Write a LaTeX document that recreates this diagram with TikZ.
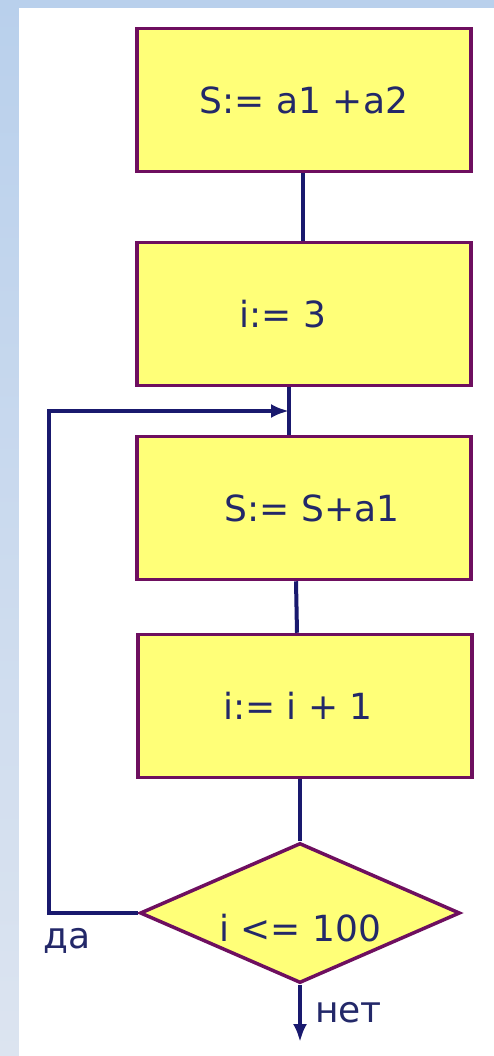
\documentclass[tikz,border=0pt]{standalone}
\usepackage{fontspec}
\setmainfont{DejaVu Sans}
\usetikzlibrary{shapes.geometric,arrows.meta}
\definecolor{navy}{RGB}{25,25,110}
\definecolor{inkblue}{RGB}{35,40,105}
\definecolor{boxpurple}{RGB}{110,15,95}
\definecolor{boxyellow}{RGB}{255,255,120}
\definecolor{bgtop}{RGB}{185,208,236}
\definecolor{bgbot}{RGB}{220,228,240}

\begin{document}
\begin{tikzpicture}[x=1pt,y=-1pt]
\tikzstyle{every node}+=[inner sep=0pt,text=inkblue,font=\fontsize{36}{40}\selectfont]
\tikzstyle{blk}=[draw=boxpurple,fill=boxyellow,line width=3.5pt,minimum width=334pt,minimum height=143pt]
\tikzstyle{cond}=[blk,diamond,aspect=2.3,minimum width=320pt,minimum height=140pt]
\tikzstyle{wire}=[navy,line width=4pt]
\tikzstyle{wirearrow}=[wire,-{Latex[length=18pt,width=14pt]}]
% background
\shade [top color=bgtop,bottom color=bgbot] (0,0) rectangle (494,1056);
\fill [white] (19,8) rectangle (494,1056);
% blocks
\node [blk] (b1) at (304,100) {S:= a1 +a2};
\node [blk] (b2) at (304,314) {i:= 3\hspace*{42pt}};
\node [blk] (b3) at (304,508) {\hspace*{16pt}S:= S+a1};
\node [blk] (b4) at (305,706) {i:= i + 1\hspace*{14pt}};
\node [cond] (c) at (300,913) {\raisebox{-28pt}[0pt][0pt]{i <= 100}};
% connectors
\coordinate (jn) at ([xshift=-15pt]b2.south);
\coordinate (back) at (49,411);
\coordinate (out) at (300,1042);
\draw [wire] ([xshift=-1pt]b1.south) -- ([xshift=-1pt]b2.north);
\draw [wire] (jn) -- ([xshift=-15pt]b3.north);
\draw [wire] ([xshift=-8pt]b3.south) -- ([xshift=-8pt]b4.north);
\draw [wire] (c.north |- b4.south) -- (c.north);
\draw [wirearrow] (c.west) -| (back) -- (back -| jn);
\draw [wirearrow] (c.south) -- node [pos=0.49,right=13pt] {нет} (out);
\node [anchor=north west] (yes) at ([xshift=-6pt,yshift=-15pt]back |- c.west) {да};
\end{tikzpicture}
\end{document}
